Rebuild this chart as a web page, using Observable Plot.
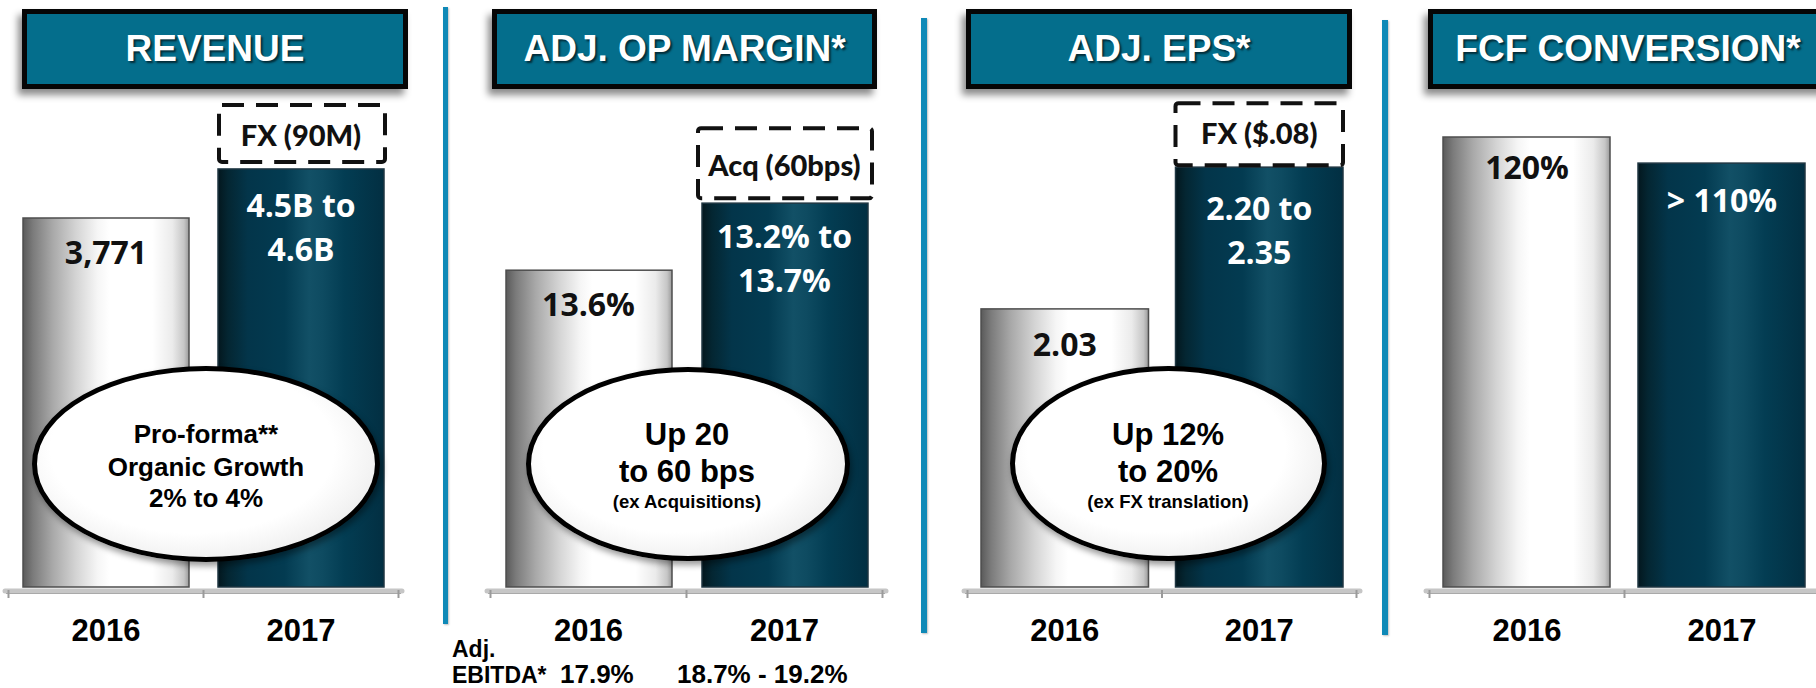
<!DOCTYPE html>
<html>
<head>
<meta charset="utf-8">
<script src="https://cdn.jsdelivr.net/npm/d3@7"></script>
<script src="https://cdn.jsdelivr.net/npm/@observablehq/plot@0.6"></script>
<style>
html, body { margin: 0; padding: 0; overflow: hidden; background: #fff; }
#page { position: relative; width: 1816px; height: 688px; overflow: hidden; background: #fff; font-family: "Liberation Sans", Arial, sans-serif; }
.sep { position: absolute; background: #0f89b7; box-shadow: 1px 1px 2px rgba(0,0,0,.25); }
.title { position: absolute; box-sizing: border-box; border: 5px solid #060606; background: #046e8c;
  box-shadow: -4px 6px 7px rgba(0,0,0,.45); display: flex; align-items: center; justify-content: center;
  color: #fff; font: bold 37px "Liberation Sans", Arial, sans-serif; text-shadow: 2px 2px 2px rgba(0,0,0,.6); white-space: nowrap; }
.ellipse { position: absolute; box-sizing: border-box; border: 5px solid #000; border-radius: 50%;
  background: radial-gradient(ellipse at 46% 42%, #fff 0%, #fff 55%, #ededed 78%, #c2c2c2 100%);
  box-shadow: 2px 4px 6px rgba(0,0,0,.4); }
.t { position: absolute; white-space: nowrap; line-height: 1; font-weight: bold; }
g[aria-label="adjustment box"] { filter: drop-shadow(1px 2px 3px rgba(0,0,0,.45)); }
g[aria-label="adjustment label"] { filter: drop-shadow(1px 2px 2px rgba(0,0,0,.45)); }
</style>
</head>
<body>
<svg width="0" height="0" style="position:absolute">
  <defs>
    <linearGradient id="gGray" x1="0" x2="1" y1="0" y2="0">
      <stop offset="0%" stop-color="#5a5a5a"/>
      <stop offset="6%" stop-color="#7b7b7b"/>
      <stop offset="18%" stop-color="#a9a9a9"/>
      <stop offset="32%" stop-color="#d4d4d4"/>
      <stop offset="45%" stop-color="#f6f6f6"/>
      <stop offset="52%" stop-color="#ffffff"/>
      <stop offset="78%" stop-color="#ffffff"/>
      <stop offset="90%" stop-color="#ebebeb"/>
      <stop offset="97%" stop-color="#c6c6c6"/>
      <stop offset="100%" stop-color="#9a9a9a"/>
    </linearGradient>
    <linearGradient id="gDark" x1="0" x2="1" y1="0" y2="0">
      <stop offset="0%" stop-color="#03171e"/>
      <stop offset="6%" stop-color="#042632"/>
      <stop offset="18%" stop-color="#03354a"/>
      <stop offset="40%" stop-color="#033b51"/>
      <stop offset="55%" stop-color="#125066"/>
      <stop offset="63%" stop-color="#0e4b61"/>
      <stop offset="76%" stop-color="#033d53"/>
      <stop offset="100%" stop-color="#022f42"/>
    </linearGradient>
  </defs>
</svg>
<div id="page"></div>
<script>
// ---------------- data ----------------
const years = ["2016", "2017"];
const titles = ["REVENUE", "ADJ. OP MARGIN*", "ADJ. EPS*", "FCF CONVERSION*"];
const revenueLabels = [["3,771"], ["4.5B to", "4.6B"]];
const opMarginLabels = [["13.6%"], ["13.2% to", "13.7%"]];
const epsLabels = [["2.03"], ["2.20 to", "2.35"]];
const fcfLabels = [["120%"], ["> 110%"]];
// column heights as drawn (illustrative columns, not to scale), in % of the tallest column
const revenueHeights = [82.0, 92.9];
const opMarginHeights = [70.4, 85.3];
const epsHeights = [61.8, 93.3];
const fcfHeights = [100, 94.2];
// adjustment boxes sitting on top of the 2017 columns
const adjustments = ["FX (90M)", "Acq (60bps)", "FX ($.08)", null];
// oval call-outs
const revenueCallout = ["Pro-forma**", "Organic Growth", "2% to 4%"];
const opMarginCallout = ["Up 20", "to 60 bps", "(ex Acquisitions)"];
const epsCallout = ["Up 12%", "to 20%", "(ex FX translation)"];
// footnote row under the op-margin panel
const ebitdaLabel = ["Adj.", "EBITDA*"];
const ebitdaValues = ["17.9%", "18.7% - 19.2%"];

const heightsByPanel = [revenueHeights, opMarginHeights, epsHeights, fcfHeights];
const labelsByPanel = [revenueLabels, opMarginLabels, epsLabels, fcfLabels];
const calloutsByPanel = [revenueCallout, opMarginCallout, epsCallout, null];

// ---------------- layout ----------------
const layout = [
  {left: 0, width: 445, mL: 8, mR: 47, inset: [15, 14], labelOff: [35, 37],
   adjBox: [64, 7], adjInset: [16, 13], adjOff: -33,
   title: {x: 22, w: 386}, sep: {x: 443, y0: 7, y1: 624, w: 5},
   ell: {x: 32, y: 366, w: 348, h: 196}, callout: {cx: 206, cy: [434, 467, 498], size: [26, 26, 26]}},
  {left: 445, width: 478, mL: 45, mR: 41, inset: [16, 14], labelOff: [35, 34],
   adjBox: [75, 5], adjInset: [12, 10], adjOff: -37,
   title: {x: 492, w: 385}, sep: {x: 921, y0: 18, y1: 633, w: 6},
   ell: {x: 526, y: 367, w: 324, h: 194}, callout: {cx: 687, cy: [434, 471, 502], size: [31, 31, 18.5]}},
  {left: 923, width: 462, mL: 44, mR: 29, inset: [14, 13], labelOff: [36, 42],
   adjBox: [64, 2], adjInset: [14, 13], adjOff: -33,
   title: {x: 966, w: 386}, sep: {x: 1382, y0: 20, y1: 635, w: 6},
   ell: {x: 1010, y: 366, w: 317, h: 195}, callout: {cx: 1168, cy: [434, 471, 502], size: [31, 31, 18.5]}},
  {left: 1385, width: 440, mL: 44, mR: 6, inset: [14, 14], labelOff: [31, 38],
   title: {x: 1428, w: 400}}
];

const root = document.getElementById("page");
const ARIAL = '"Liberation Sans", Arial, sans-serif';

function centerText(str, cx, cy, size, family, color) {
  const d = document.createElement("div");
  d.className = "t";
  d.textContent = str;
  Object.assign(d.style, {left: cx + "px", top: cy + "px", transform: "translate(-50%,-50%)",
    fontSize: size + "px", fontFamily: family, color});
  root.appendChild(d);
}
function leftText(str, x, cy, size, family, color) {
  const d = document.createElement("div");
  d.className = "t";
  d.textContent = str;
  Object.assign(d.style, {left: x + "px", top: cy + "px", transform: "translate(0,-50%)",
    fontSize: size + "px", fontFamily: family, color});
  root.appendChild(d);
}

// separators and title boxes
layout.forEach((p, i) => {
  if (p.sep) {
    const s = document.createElement("div");
    s.className = "sep";
    Object.assign(s.style, {left: p.sep.x + "px", top: p.sep.y0 + "px", width: p.sep.w + "px", height: (p.sep.y1 - p.sep.y0) + "px"});
    root.appendChild(s);
  }
  const t = document.createElement("div");
  t.className = "title";
  t.textContent = titles[i];
  Object.assign(t.style, {left: p.title.x + "px", top: "9px", width: p.title.w + "px", height: "80px"});
  root.appendChild(t);
});

// the column panels
layout.forEach((p, i) => {
  const heights = heightsByPanel[i];
  const labels = labelsByPanel[i];
  const bars = years.map((year, j) => ({year, level: heights[j]}));
  const lines = years.flatMap((year, j) => labels[j].map((text, k) => ({year, level: heights[j], text, k})));
  const bw = (p.width - p.mL - p.mR) / years.length;
  const marks = [
    Plot.ruleY([0], {stroke: "#c6c6c6", strokeWidth: 5, dy: 3.5, insetLeft: -3, insetRight: -4, strokeLinecap: "round"}),
    Plot.ruleY([0], {stroke: "#a9a9a9", strokeWidth: 1.2, dy: 6, insetLeft: -2, insetRight: -3}),
    Plot.ruleX(years, {x: d => d, y1: 0, y2: 0, insetTop: 3, insetBottom: -11, dx: -bw / 2, stroke: "#9a9a9a", strokeWidth: 2}),
    Plot.ruleX(years.slice(-1), {x: d => d, y1: 0, y2: 0, insetTop: 3, insetBottom: -11, dx: bw / 2, stroke: "#9a9a9a", strokeWidth: 2}),
    Plot.barY(bars.filter(d => d.year === years[0]), {x: "year", y: "level", fill: "url(#gGray)",
      stroke: "#4d4d4d", strokeWidth: 1.5, insetLeft: p.inset[0], insetRight: p.inset[1]}),
    Plot.barY(bars.filter(d => d.year === years[1]), {x: "year", y: "level", fill: "url(#gDark)",
      stroke: "#1f3642", strokeWidth: 1.5, insetLeft: p.inset[0], insetRight: p.inset[1]}),
    Plot.text(years, {x: d => d, frameAnchor: "bottom", lineAnchor: "middle", dy: 44, fontSize: 31, fontWeight: "bold",
      fontFamily: ARIAL, fill: "#000"})
  ];
  if (adjustments[i]) {
    const adj = [{year: years[1], level: heights[1], text: adjustments[i]}];
    marks.push(
      Plot.barY(adj, {x: "year", y1: "level", y2: "level", insetTop: -p.adjBox[0], insetBottom: p.adjBox[1],
        insetLeft: p.adjInset[0], insetRight: p.adjInset[1], fill: "#fff", stroke: "#111", strokeWidth: 4,
        strokeDasharray: "22,12", rx: 3, ariaLabel: "adjustment box"}),
      Plot.text(adj, {x: "year", y: "level", text: "text", dy: p.adjOff, lineAnchor: "middle", fontSize: 29, fontWeight: 900,
        fontFamily: "Lato, 'Open Sans', sans-serif", fill: "#111", ariaLabel: "adjustment label"})
    );
  }
  for (let j = 0; j < years.length; j++) {
    for (let k = 0; k < 2; k++) {
      marks.push(Plot.text(lines.filter(d => d.year === years[j] && d.k === k), {
        x: "year", y: "level", text: "text", dy: p.labelOff[j] + k * 44, lineAnchor: "middle",
        fontSize: 32, fontWeight: "bold", fontFamily: "'Open Sans', sans-serif",
        fill: j === 0 ? "#111" : "#fff"}));
    }
  }
  const svg = Plot.plot({
    width: p.width, height: 688,
    marginTop: 137, marginBottom: 101, marginLeft: p.mL, marginRight: p.mR,
    x: {domain: years, padding: 0, round: false, axis: null},
    y: {domain: [0, 100], axis: null},
    style: {background: "transparent", overflow: "visible"},
    marks
  });
  Object.assign(svg.style, {position: "absolute", left: p.left + "px", top: "0px", maxWidth: "none", background: "transparent"});
  root.appendChild(svg);
});

// oval call-outs
layout.forEach((p, i) => {
  const c = calloutsByPanel[i];
  if (!c) return;
  const e = document.createElement("div");
  e.className = "ellipse";
  Object.assign(e.style, {left: p.ell.x + "px", top: p.ell.y + "px", width: p.ell.w + "px", height: p.ell.h + "px"});
  root.appendChild(e);
  c.forEach((line, k) => centerText(line, p.callout.cx, p.callout.cy[k], p.callout.size[k], ARIAL, "#000"));
});

// Adj. EBITDA footnote row
leftText(ebitdaLabel[0], 452, 649, 23, ARIAL, "#000");
leftText(ebitdaLabel[1], 452, 675, 23, ARIAL, "#000");
leftText(ebitdaValues[0], 560, 674, 26, ARIAL, "#000");
leftText(ebitdaValues[1], 677, 674, 26, ARIAL, "#000");
</script>
</body>
</html>
